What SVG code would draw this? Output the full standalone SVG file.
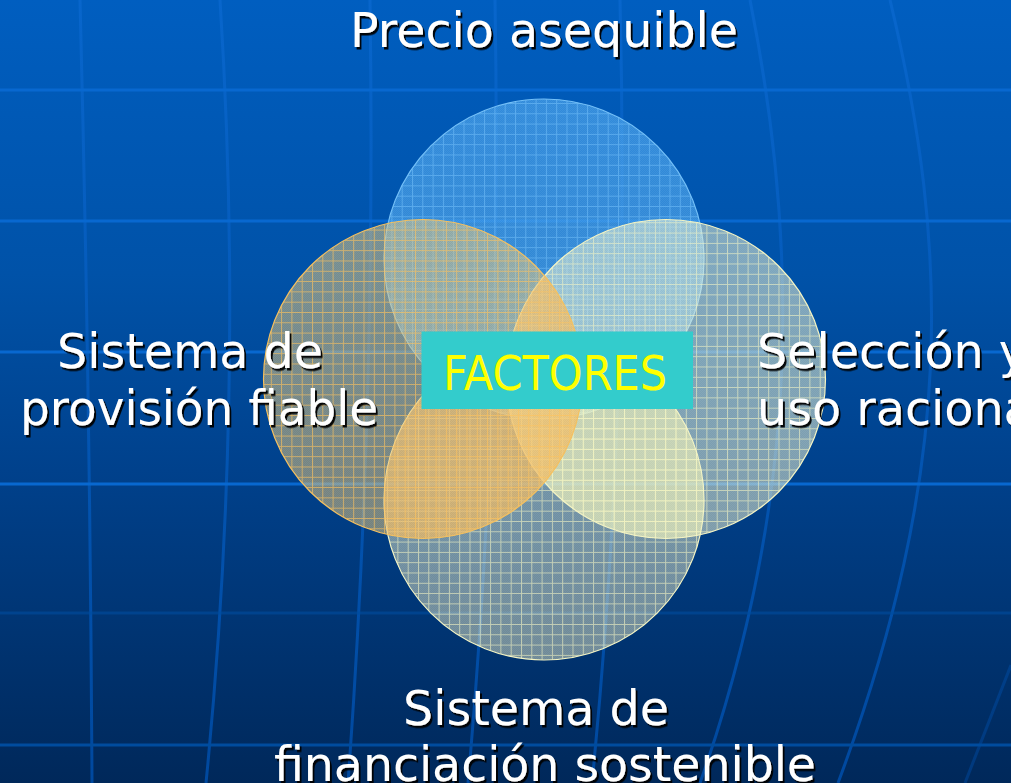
<svg xmlns="http://www.w3.org/2000/svg" width="1011" height="783" viewBox="0 0 1011 783">
<defs>
<linearGradient id="bg" x1="0" y1="0" x2="0" y2="1">
<stop offset="0" stop-color="#005ec0"/>
<stop offset="0.35" stop-color="#0052a8"/>
<stop offset="0.6" stop-color="#00418c"/>
<stop offset="1" stop-color="#00285a"/>
</linearGradient>
<linearGradient id="mer" gradientUnits="userSpaceOnUse" x1="0" y1="0" x2="0" y2="783">
<stop offset="0" stop-color="#0866cc"/>
<stop offset="1" stop-color="#00489e"/>
</linearGradient>
<pattern id="chk" width="2" height="2" patternUnits="userSpaceOnUse">
<rect width="1" height="1" fill="#ffffff"/>
<rect x="1" y="1" width="1" height="1" fill="#ffffff"/>
</pattern>
<pattern id="gBlue" width="10.3" height="10.3" patternUnits="userSpaceOnUse">
<path d="M0 0.5H10.3M0.5 0V10.3" stroke="#7cc8ff" stroke-opacity="0.5" stroke-width="1" fill="none"/>
</pattern>
<pattern id="gOrange" width="10.3" height="10.3" patternUnits="userSpaceOnUse" x="3" y="3">
<path d="M0 0.5H10.3M0.5 0V10.3" stroke="#ffc45c" stroke-opacity="0.65" stroke-width="1" fill="none"/>
</pattern>
<pattern id="gPale" width="10.3" height="10.3" patternUnits="userSpaceOnUse" x="6" y="6">
<path d="M0 0.5H10.3M0.5 0V10.3" stroke="#f8f8c4" stroke-opacity="0.6" stroke-width="1" fill="none"/>
</pattern>
<clipPath id="cpRB">
<circle cx="666" cy="379" r="159.5"/>
<circle cx="544" cy="500" r="160"/>
</clipPath>
<clipPath id="cpB">
<circle cx="544" cy="500" r="160"/>
</clipPath>
<filter id="sh" x="-5%" y="-20%" width="110%" height="140%">
<feDropShadow dx="2" dy="2.5" stdDeviation="0.4" flood-color="#000000" flood-opacity="0.95"/>
</filter>
</defs>
<style>
.hl{stroke:#0868d0;stroke-width:3;fill:none}
.hf{stroke:#004c9e;stroke-width:3;fill:none}
.vl{stroke:url(#mer);stroke-width:3;fill:none}
.lbl{font-family:"DejaVu Sans","Verdana",sans-serif;font-size:48px;fill:#ffffff;filter:url(#sh)}
.chk{fill:url(#chk);opacity:0.06}
</style>
<rect width="1011" height="783" fill="url(#bg)"/>
<g id="background-grid">
<path class="vl" d="M80 0Q90 390 92 783"/>
<path class="vl" d="M220 0Q245 391 206 783"/>
<path class="vl" d="M370 0Q376 400 348 783"/>
<path class="vl" d="M495 0Q502 400 468 783"/>
<path class="vl" d="M620 0Q630 400 592 783"/>
<path class="vl" d="M750 0C800 250 800 500 700 783"/>
<path class="vl" d="M890 0C950 250 955 470 838 783"/>
<path class="vl" d="M1011 665L965 783" opacity="0.5"/>
<path class="hl" d="M0 90H1011M0 221H1011M0 352H1011M0 484H1011"/>
<path class="hf" d="M0 613H1011" stroke-opacity="0.6"/>
<path class="hf" d="M0 745H1011" stroke="#003e80"/>
</g>
<g id="circle-top">
<circle cx="544" cy="259" r="160" fill="#4ca8f0" fill-opacity="0.64"/>
<circle cx="544" cy="259" r="160" class="chk"/>
<circle cx="544" cy="259" r="160" fill="url(#gBlue)" stroke="#74c0f8" stroke-width="1.2"/>
</g>
<g id="circle-bottom">
<circle cx="544" cy="500" r="160" fill="#f2f2c8" fill-opacity="0.46"/>
<circle cx="544" cy="500" r="160" class="chk"/>
<circle cx="544" cy="500" r="160" fill="url(#gPale)" stroke="#f4f4c4" stroke-width="1.2"/>
</g>
<g id="circle-right">
<circle cx="666" cy="379" r="159.5" fill="#f0f4d0" fill-opacity="0.52"/>
<circle cx="666" cy="379" r="159.5" fill="#f0f0a0" fill-opacity="0.3" clip-path="url(#cpB)"/>
<circle cx="666" cy="379" r="159.5" class="chk"/>
<circle cx="666" cy="379" r="159.5" fill="url(#gPale)" stroke="#f4f4c4" stroke-width="1.2"/>
</g>
<g id="circle-left">
<circle cx="423" cy="379" r="159.5" fill="#eac878" fill-opacity="0.5"/>
<circle cx="423" cy="379" r="159.5" fill="#f8b04a" fill-opacity="0.4" clip-path="url(#cpRB)"/>
<circle cx="423" cy="379" r="159.5" class="chk"/>
<circle cx="423" cy="379" r="159.5" fill="url(#gOrange)" stroke="#f4c060" stroke-width="1.2"/>
</g>
<g id="factores">
<rect x="421.5" y="331.5" width="271.5" height="77.5" fill="#33cccc"/>
<text x="443" y="390" font-family="DejaVu Sans, Verdana, sans-serif" font-size="48" fill="#ffff00" textLength="224" lengthAdjust="spacingAndGlyphs">FACTORES</text>
</g>
<g id="label-top">
<text class="lbl" x="350" y="47" textLength="388" lengthAdjust="spacingAndGlyphs">Precio asequible</text>
</g>
<g id="label-left">
<text class="lbl" x="57" y="368" textLength="266" lengthAdjust="spacingAndGlyphs">Sistema de</text>
<text class="lbl" x="20" y="425" textLength="358" lengthAdjust="spacingAndGlyphs">provisión fiable</text>
</g>
<g id="label-right">
<text class="lbl" x="757" y="368" textLength="270" lengthAdjust="spacingAndGlyphs">Selección y</text>
<text class="lbl" x="757" y="425" textLength="289" lengthAdjust="spacingAndGlyphs">uso racional</text>
</g>
<g id="label-bottom">
<text class="lbl" x="403" y="725" textLength="266" lengthAdjust="spacingAndGlyphs">Sistema de</text>
<text class="lbl" x="274" y="781" textLength="542" lengthAdjust="spacingAndGlyphs">financiación sostenible</text>
</g>
</svg>
